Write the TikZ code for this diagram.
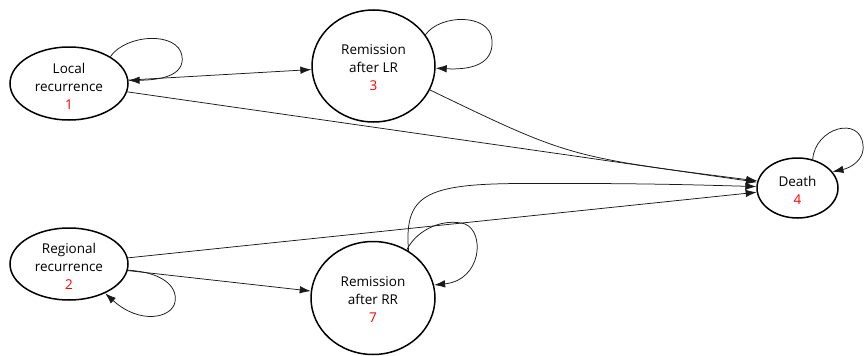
\documentclass[tikz,border=0pt]{standalone}
\usepackage{fontspec}
\setmainfont{Open Sans}
\usetikzlibrary{arrows.meta,shapes.geometric}
\begin{document}
\begin{tikzpicture}[x=1pt,y=-1pt,
  stateshape/.style={draw=black, line width=1.5pt, ellipse, inner sep=0pt},
  statetext/.style={align=center, inner sep=0pt, text=black,
    font=\fontsize{13.5}{18}\selectfont},
  edge/.style={draw=black!90, line width=0.75pt, -{Latex[length=11pt,width=7.5pt]}}]
\useasboundingbox[fill=white] (0,0) rectangle (865,356);

% states
\node[stateshape, minimum width=118pt, minimum height=73pt] (n1) at (69,83.5) {};
\node[stateshape, minimum width=123pt, minimum height=112pt] (n3) at (373.5,66) {};
\node[stateshape, minimum width=81pt, minimum height=60pt] (n4) at (797.5,188) {};
\node[stateshape, minimum width=118pt, minimum height=72pt] (n2) at (69,264) {};
\node[stateshape, minimum width=124pt, minimum height=113pt] (n7) at (373,298) {};

% state labels
\node[statetext] (t1) at (69,86) {Local\\recurrence\\\textcolor{red}{1}};
\node[statetext] (t3) at (373.5,68) {Remission\\after LR\\\textcolor{red}{3}};
\node[statetext] (t4) at (797.5,190) {Death\\\textcolor{red}{4}};
\node[statetext] (t2) at (69,266) {Regional\\recurrence\\\textcolor{red}{2}};
\node[statetext] (t7) at (373,300) {Remission\\after RR\\\textcolor{red}{7}};

% transitions
\draw[edge] (n1) -- (n3);
\draw[edge] (n1) -- (n4);
\draw[edge] (n2) -- (n4);
\draw[edge] (n2) -- (n7);
\draw[edge] (n3.-23) .. controls (569,157) .. (n4.170);
\draw[edge] (n7.53) .. controls (404,195) and (425,184) .. (520,183.5)
  .. controls (640,183) and (700,185) .. (n4.178);

% self transitions
\draw[edge] (n1.33) .. controls (126,34) and (178,31) .. (182,56)
  .. controls (185,76) and (160,80) .. (n1.3);
\draw[edge] (n3.31) .. controls (440,14) and (490,13) .. (492,40)
  .. controls (494,65) and (470,70) .. (n3.-2);
\draw[edge] (n4.62) .. controls (815,128) and (860,115) .. (863,145)
  .. controls (865,160) and (850,168) .. (n4.25);
\draw[edge] (n2.-6) .. controls (160,272) and (178,285) .. (175,302)
  .. controls (172,318) and (140,325) .. (n2.-39);
\draw[edge] (n7.55) .. controls (418,228) and (445,218) .. (465,224)
  .. controls (485,232) and (482,280) .. (n7.12);
\end{tikzpicture}
\end{document}
